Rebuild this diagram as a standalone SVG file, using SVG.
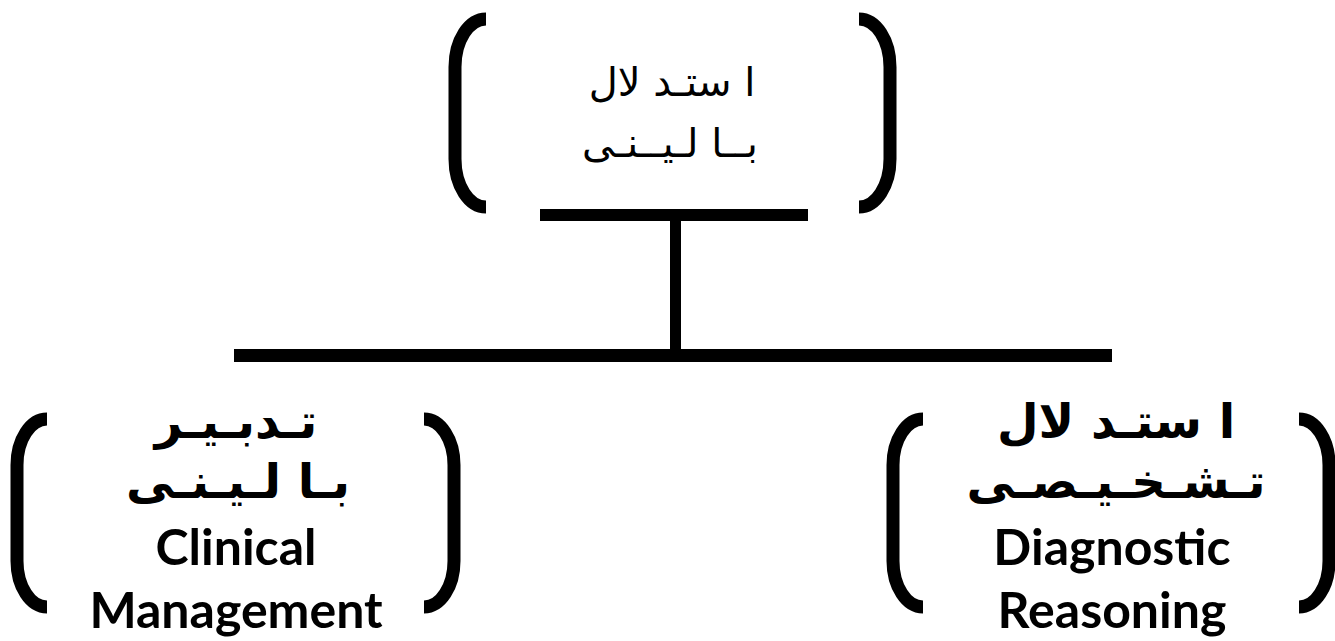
<svg xmlns="http://www.w3.org/2000/svg" width="1335" height="641" viewBox="0 0 1335 641">
<style>
  .br { fill: none; stroke: #000; stroke-width: 13; stroke-linecap: butt; }
  .bar { fill: #000; }
  .ar { font-family: "DejaVu Sans", sans-serif; text-anchor: middle; fill: #000; }
  .arTop { font-size: 40px; font-weight: normal; }
  .arBold { font-size: 48px; font-weight: bold; }
  .en { font-family: "Lato", "Open Sans", sans-serif; font-weight: bold; font-size: 50px; text-anchor: middle; fill: #000; }
</style>
<rect width="1335" height="641" fill="#fff"/>
<g id="connectors">
  <rect class="bar" x="540" y="209" width="268" height="12"/>
  <rect class="bar" x="670" y="221" width="11" height="134"/>
  <rect class="bar" x="234" y="349" width="878" height="13"/>
</g>
<g id="node-clinical-reasoning">
  <path class="br" d="M486,19 A31,48 0 0 0 455,67 L455,159 A31,48 0 0 0 486,207"/>
  <path class="br" d="M859,19 A31,48 0 0 1 890,67 L890,159 A31,48 0 0 1 859,207"/>
  <text class="ar arTop" x="672" y="96" direction="rtl">ا ستـد لال</text>
  <text class="ar arTop" x="670" y="157" direction="rtl">بــا لـیــنـی</text>
</g>
<g id="node-clinical-management">
  <path class="br" d="M47,419 A30,46 0 0 0 17,465 L17,561 A30,46 0 0 0 47,607"/>
  <path class="br" d="M424,419 A30,46 0 0 1 454,465 L454,561 A30,46 0 0 1 424,607"/>
  <text class="ar arBold" x="236" y="438" direction="rtl">تـدبـیـر</text>
  <text class="ar arBold" x="238" y="498" direction="rtl">بـا لـیـنـی</text>
  <text class="en" x="236" y="565">Clinical</text>
  <text class="en" x="236" y="628">Management</text>
</g>
<g id="node-diagnostic-reasoning">
  <path class="br" d="M923,419 A30,46 0 0 0 893,465 L893,561 A30,46 0 0 0 923,607"/>
  <path class="br" d="M1299,419 A30,46 0 0 1 1329,465 L1329,561 A30,46 0 0 1 1299,607"/>
  <text class="ar arBold" x="1116" y="438" direction="rtl">ا ستـد لال</text>
  <text class="ar arBold" x="1116" y="498" direction="rtl">تـشـخـیـصـی</text>
  <text class="en" x="1112" y="565">Diagnostic</text>
  <text class="en" x="1112" y="628">Reasoning</text>
</g>
</svg>
